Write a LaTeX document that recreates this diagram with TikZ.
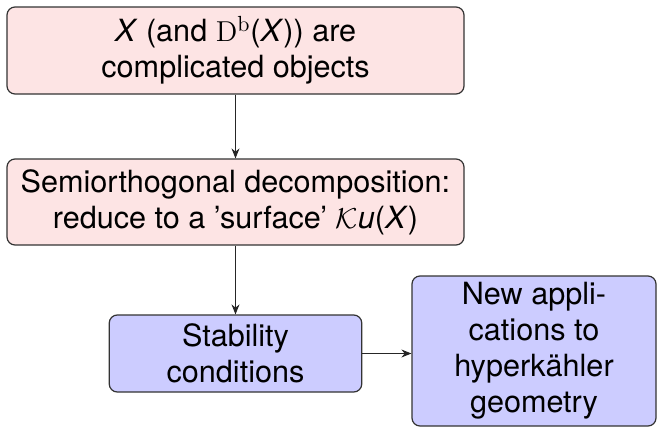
\documentclass[tikz,border=0pt]{standalone}
\usepackage[no-math]{fontspec}
\setmainfont{TeX Gyre Heros}
\setsansfont{TeX Gyre Heros}
\usetikzlibrary{arrows.meta}
\definecolor{pinkfill}{RGB}{253,228,228}
\definecolor{bluefill}{RGB}{204,204,255}
\tikzset{
  box/.style={draw=black!80, line width=0.6pt, rounded corners=4pt, align=center,
    inner sep=0pt, font=\fontsize{15.3pt}{18pt}\selectfont},
  pinkbox/.style={box, fill=pinkfill},
  bluebox/.style={box, fill=bluefill},
  conn/.style={line width=0.55pt, draw=black!85, -{Stealth[length=5pt,width=4pt]}}
}
\begin{document}
\begin{tikzpicture}[x=0.5pt,y=-0.5pt]
\useasboundingbox (0,0) rectangle (660,429);
\node[pinkbox, minimum width=228.5pt, minimum height=43.5pt] (b1) at (235.5,50.5)
  {\textit{X} (and $\mathrm{D}^{\mathrm{b}}$(\textit{X})) are\\complicated objects};
\node[pinkbox, minimum width=228.5pt, minimum height=43pt] (b2) at (235.5,202)
  {Semiorthogonal decomposition:\\reduce to a 'surface' $\mathcal{K}$\textit{u}(\textit{X})};
\node[bluebox, minimum width=126.25pt, minimum height=38.5pt] (b3) at (235.5,353.5)
  {Stability\\conditions};
\node[bluebox, minimum width=122pt, minimum height=75pt] (b4) at (534,351)
  {New appli-\\cations to\\hyperkähler\\geometry};
\draw[conn] (b1) -- (b2);
\draw[conn] (b2) -- (b3);
\draw[conn] (b3.east) -- (b3.east -| b4.west);
\end{tikzpicture}
\end{document}
